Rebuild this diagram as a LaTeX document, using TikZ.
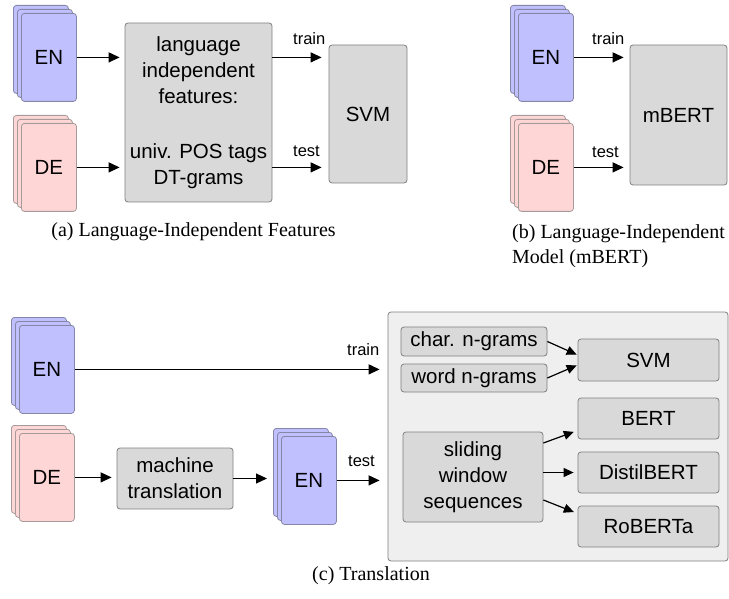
\documentclass[tikz,border=0pt]{standalone}
\usepackage{fontspec}
\setmainfont{Liberation Serif}
\setsansfont{Liberation Sans}
\usetikzlibrary{arrows.meta,calc}
\definecolor{enblue}{HTML}{C0C0FF}
\definecolor{enborder}{HTML}{8686A6}
\definecolor{depink}{HTML}{FFD6D6}
\definecolor{deborder}{HTML}{A69A9A}
\definecolor{boxgray}{HTML}{D9D9D9}
\definecolor{boxborder}{HTML}{7F7F7F}
\definecolor{panelgray}{HTML}{EFEFEF}
\newcommand\docstack[5]{%
  \node[sheet,#4,anchor=north west] (#1-3) at (#2,#3) {};
  \node[sheet,#4,anchor=north west] (#1-2) at (#2+4,#3+4) {};
  \node[sheet,#4,anchor=north west] (#1) at (#2+8,#3+8) {#5};
}
\begin{document}
\begin{tikzpicture}[x=1pt,y=-1pt,
  sheet/.style={draw,line width=0.8pt,rounded corners=3pt,minimum width=55pt,minimum height=88pt,inner sep=0pt,font=\sffamily\fontsize{20.5}{24}\selectfont},
  en/.style={fill=enblue,draw=enborder},
  de/.style={fill=depink,draw=deborder},
  gbox/.style={draw=boxborder,fill=boxgray,line width=0.8pt,rounded corners=3pt,inner sep=0pt,align=center,font=\sffamily\fontsize{20.5}{26}\selectfont},
  lbl/.style={font=\sffamily\fontsize{16.5}{18}\selectfont,inner sep=0pt,anchor=base west},
  captext/.style={font=\fontsize{20}{25}\selectfont,inner sep=0pt},
  arr/.style={-{Triangle[length=11pt,width=10pt]},line width=1.2pt},
  sarr/.style={-{Triangle[length=10pt,width=9pt]},line width=1.2pt}
]
\useasboundingbox (0,0) rectangle (729,599);

% ---------- (a) ----------
\docstack{ENa}{13}{5}{en}{EN}
\docstack{DEa}{13}{115}{de}{DE}
\node[gbox,minimum width=147pt,minimum height=179pt] (feat) at (198.5,112.5)
  {language\\independent\\features:\\[29pt]univ. POS tags\\DT-grams};
\node[gbox,minimum width=78pt,minimum height=138pt] (SVMa) at (368,114) {SVM};
\draw[arr,shorten >=5pt] (ENa.east) -- (feat.west |- ENa.east);
\draw[arr,shorten >=5pt] (DEa.east) -- (feat.west |- DEa.east);
\draw[arr,shorten >=7pt] (feat.east |- ENa.east) -- (SVMa.west |- ENa.east);
\draw[arr,shorten >=7pt] (feat.east |- DEa.east) -- (SVMa.west |- DEa.east);
\node[lbl] (trainA) at (293,45) {train};
\node[lbl] (testA) at (293,157) {test};
\node[captext] (capA) at (193.5,232) {(a) Language-Independent Features};

% ---------- (b) ----------
\docstack{ENb}{510}{5}{en}{EN}
\docstack{DEb}{510}{115}{de}{DE}
\node[gbox,minimum width=97pt,minimum height=140pt] (mbert) at (678.5,115) {mBERT};
\draw[arr,shorten >=6pt] (ENb.east) -- (mbert.west |- ENb.east);
\draw[arr,shorten >=6pt] (DEb.east) -- (mbert.west |- DEb.east);
\node[lbl] (trainB) at (592,45) {train};
\node[lbl] (testB) at (592,158) {test};
\node[captext,anchor=base west] (capB1) at (512,238) {(b) Language-Independent};
\node[captext,anchor=base west] (capB2) at (512,263) {Model (mBERT)};

% ---------- (c) ----------
\docstack{ENc}{11}{317}{en}{EN}
\docstack{DEc}{11}{425}{de}{DE}
\node[gbox,minimum width=116pt,minimum height=61pt] (mt) at (175,478.5) {machine\\translation};
\docstack{ENd}{273}{428}{en}{EN}
\node[draw=boxborder,fill=panelgray,line width=0.8pt,rounded corners=3pt,minimum width=340pt,minimum height=249pt,inner sep=0pt] (panel) at (558,436.5) {};
\node[gbox,minimum width=146pt,minimum height=29pt] (char) at (474,341.5) {char. n-grams};
\node[gbox,minimum width=146pt,minimum height=28pt] (word) at (474,378) {word n-grams};
\node[gbox,minimum width=141pt,minimum height=42pt] (SVMc) at (648.5,360) {SVM};
\node[gbox,minimum width=141pt,minimum height=41pt] (bert) at (648.5,418.5) {BERT};
\node[gbox,minimum width=141pt,minimum height=41pt] (distil) at (648.5,472.5) {DistilBERT};
\node[gbox,minimum width=141pt,minimum height=41pt] (roberta) at (648.5,526.5) {RoBERTa};
\node[gbox,minimum width=140pt,minimum height=90pt] (slide) at (473,477) {sliding\\window\\sequences};
\draw[arr,shorten >=8pt] (ENc.east) -- (panel.west |- ENc.east);
\draw[arr,shorten >=5pt] (DEc.east) -- (mt.west |- DEc.east);
\draw[arr,shorten >=6pt] (mt.east) -- (ENd-3.west |- mt.east);
\draw[arr,shorten >=8pt] (ENd.east) -- (panel.west |- ENd.east);
\node[lbl] (trainC) at (347,355) {train};
\node[lbl] (testC) at (348,466) {test};
\draw[sarr,shorten >=1pt] (char.east) -- ([yshift=5pt]SVMc.west);
\draw[sarr,shorten >=1pt] (word.east) -- ([yshift=-5pt]SVMc.west);
\draw[sarr,shorten >=4pt] ([yshift=34pt]slide.east) -- ([yshift=-12pt]bert.west);
\draw[sarr,shorten >=4pt] (slide.east |- distil.west) -- (distil.west);
\draw[sarr,shorten >=4pt] ([yshift=-23pt]slide.east) -- ([yshift=13pt]roberta.west);
\node[captext] (capC) at (371,576) {(c) Translation};
\end{tikzpicture}
\end{document}
